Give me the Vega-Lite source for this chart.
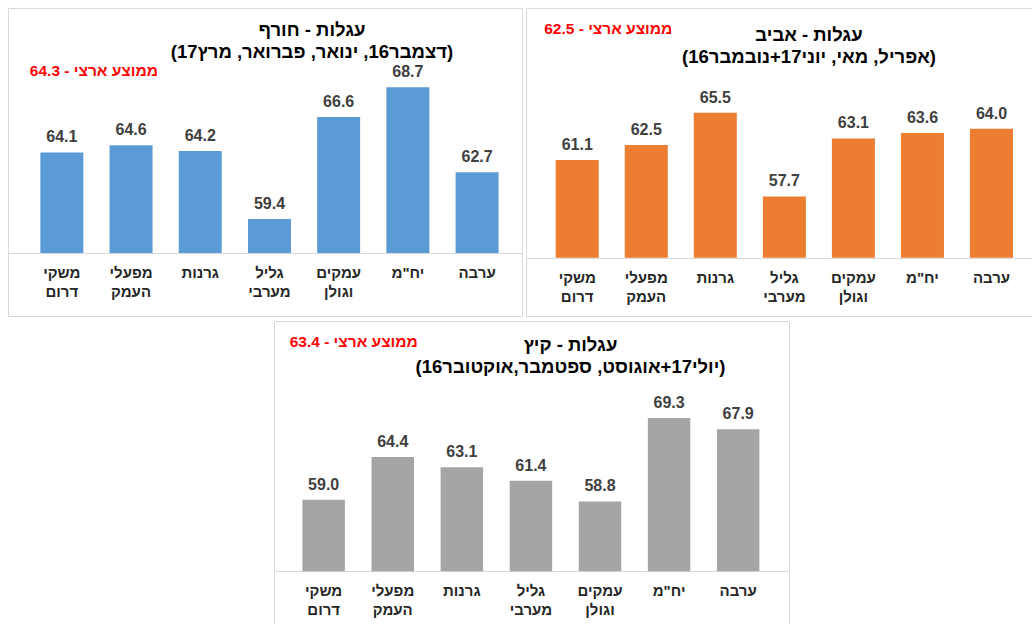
{
  "$schema": "https://vega.github.io/schema/vega-lite/v6.json",
  "padding": {"left": 7, "top": 7, "right": 0, "bottom": 0},
  "config": {
    "view": {"stroke": "#d9d9d9", "strokeWidth": 1},
    "font": "Liberation Sans",
    "title": {"font": "Liberation Sans", "fontSize": 18.5, "fontWeight": "bold", "color": "#000000", "subtitleFont": "Liberation Sans", "subtitleFontSize": 18.5, "subtitleFontWeight": "bold", "subtitleColor": "#000000", "subtitlePadding": 3, "anchor": "middle", "frame": "group"},
    "axisX": {"title": null, "ticks": false, "labelAngle": 0, "domainColor": "#d9d9d9", "domainWidth": 1, "labelFont": "Liberation Sans", "labelFontWeight": "bold", "labelFontSize": 15, "labelColor": "#262626", "labelPadding": 12, "labelLineHeight": 19, "labelBaseline": "top", "labelExpr": "split(datum.label, ' ')"}
  },
  "spacing": 3,
  "vconcat": [
    {
      "spacing": 2,
      "hconcat": [
        {
          "width": 514,
          "height": 308,
          "title": {"text": "עגלות - חורף", "subtitle": "(דצמבר16, ינואר, פברואר, מרץ17)", "offset": -53, "dx": 47},
          "data": {"values": [
            {"region": "משקי דרום", "value": 64.1},
            {"region": "מפעלי העמק", "value": 64.6},
            {"region": "גרנות", "value": 64.2},
            {"region": "גליל מערבי", "value": 59.4},
            {"region": "עמקים וגולן", "value": 66.6},
            {"region": "יח\"מ", "value": 68.7},
            {"region": "ערבה", "value": 62.7}
          ]},
          "encoding": {
            "x": {"field": "region", "type": "nominal", "sort": ["משקי דרום", "מפעלי העמק", "גרנות", "גליל מערבי", "עמקים וגולן", "יח\"מ", "ערבה"], "scale": {"paddingInner": 0.379, "paddingOuter": 0.403, "align": 0.58}, "axis": {"offset": -63}}
          },
          "layer": [
            {"mark": {"type": "bar", "color": "#5B9BD5"}, "encoding": {"y": {"field": "value", "type": "quantitative", "scale": {"domain": [52.55, 74.3], "nice": false, "zero": false}, "axis": null}, "y2": {"datum": 57}}},
            {"mark": {"type": "text", "baseline": "alphabetic", "dy": -10, "fontSize": 16, "fontWeight": "bold", "color": "#404040"}, "encoding": {"y": {"field": "value", "type": "quantitative"}, "text": {"field": "value", "type": "quantitative", "format": ".1f"}}},
            {"data": {"values": [{"note": "ממוצע ארצי - 64.3"}]}, "mark": {"type": "text", "align": "left", "baseline": "middle", "dx": -32, "fontSize": 15.5, "fontWeight": "bold", "color": "#ff0000"}, "encoding": {"x": {"datum": "משקי דרום"}, "y": {"datum": 69.85}, "text": {"field": "note"}}}
          ]
        },
        {
          "width": 508,
          "height": 308,
          "title": {"text": "עגלות - אביב", "subtitle": "(אפריל, מאי, יוני17+נובמבר16)", "offset": -58, "dx": 29},
          "data": {"values": [
            {"region": "משקי דרום", "value": 61.1},
            {"region": "מפעלי העמק", "value": 62.5},
            {"region": "גרנות", "value": 65.5},
            {"region": "גליל מערבי", "value": 57.7},
            {"region": "עמקים וגולן", "value": 63.1},
            {"region": "יח\"מ", "value": 63.6},
            {"region": "ערבה", "value": 64.0}
          ]},
          "encoding": {
            "x": {"field": "region", "type": "nominal", "sort": ["משקי דרום", "מפעלי העמק", "גרנות", "גליל מערבי", "עמקים וגולן", "יח\"מ", "ערבה"], "scale": {"paddingInner": 0.377, "paddingOuter": 0.367, "align": 0.586}, "axis": {"offset": -58}}
          },
          "layer": [
            {"mark": {"type": "bar", "color": "#ED7D31"}, "encoding": {"y": {"field": "value", "type": "quantitative", "scale": {"domain": [46.57, 75.25], "nice": false, "zero": false}, "axis": null}, "y2": {"datum": 52}}},
            {"mark": {"type": "text", "baseline": "alphabetic", "dy": -10, "fontSize": 16, "fontWeight": "bold", "color": "#404040"}, "encoding": {"y": {"field": "value", "type": "quantitative"}, "text": {"field": "value", "type": "quantitative", "format": ".1f"}}},
            {"data": {"values": [{"note": "ממוצע ארצי - 62.5"}]}, "mark": {"type": "text", "align": "left", "baseline": "middle", "dx": -33, "fontSize": 15.5, "fontWeight": "bold", "color": "#ff0000"}, "encoding": {"x": {"datum": "משקי דרום"}, "y": {"datum": 73.3}, "text": {"field": "note"}}}
          ]
        }
      ]
    },
    {
      "spacing": 0,
      "hconcat": [
        {"width": 265, "height": 10, "data": {"values": []}, "mark": "point", "view": {"stroke": null}},
        {
          "width": 515,
          "height": 305,
          "title": {"text": "עגלות - קיץ", "subtitle": "(יולי17+אוגוסט, ספטמבר,אוקטובר16)", "offset": -55, "dx": 39},
          "data": {"values": [
            {"region": "משקי דרום", "value": 59.0},
            {"region": "מפעלי העמק", "value": 64.4},
            {"region": "גרנות", "value": 63.1},
            {"region": "גליל מערבי", "value": 61.4},
            {"region": "עמקים וגולן", "value": 58.8},
            {"region": "יח\"מ", "value": 69.3},
            {"region": "ערבה", "value": 67.9}
          ]},
          "encoding": {
            "x": {"field": "region", "type": "nominal", "sort": ["משקי דרום", "מפעלי העמק", "גרנות", "גליל מערבי", "עמקים וגולן", "יח\"מ", "ערבה"], "scale": {"paddingInner": 0.385, "paddingOuter": 0.42, "align": 0.49}, "axis": {"offset": -55}}
          },
          "layer": [
            {"mark": {"type": "bar", "color": "#A5A5A5"}, "encoding": {"y": {"field": "value", "type": "quantitative", "scale": {"domain": [43.11, 81.52], "nice": false, "zero": false}, "axis": null}, "y2": {"datum": 50}}},
            {"mark": {"type": "text", "baseline": "alphabetic", "dy": -10, "fontSize": 16, "fontWeight": "bold", "color": "#404040"}, "encoding": {"y": {"field": "value", "type": "quantitative"}, "text": {"field": "value", "type": "quantitative", "format": ".1f"}}},
            {"data": {"values": [{"note": "ממוצע ארצי - 63.4"}]}, "mark": {"type": "text", "align": "left", "baseline": "middle", "dx": -34, "fontSize": 15.5, "fontWeight": "bold", "color": "#ff0000"}, "encoding": {"x": {"datum": "משקי דרום"}, "y": {"datum": 78.9}, "text": {"field": "note"}}}
          ]
        }
      ]
    }
  ]
}
